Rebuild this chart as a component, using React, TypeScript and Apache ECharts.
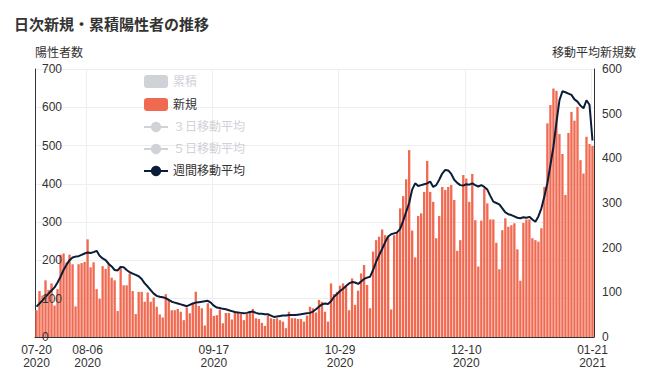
import React, { useEffect, useRef } from 'react';
import * as echarts from 'echarts';

const startDate = '2020-07-20';
const dayCount = 186;
const labelIndices = [0, 17, 59, 101, 143, 185];

const newCases = [
  70, 120, 108, 148, 123, 140, 82, 125, 215, 218, 195, 215, 190, 80, 190, 193, 196, 255,
  182, 195, 125, 100, 185, 178, 190, 155, 148, 68, 185, 135, 135, 165, 120, 60, 118, 118, 92,
  116, 92, 103, 79, 59, 51, 112, 97, 70, 70, 73, 66, 44, 77, 62, 86, 118, 81, 75, 30, 88, 75, 55, 57, 72, 36, 63, 63, 46, 66, 63, 60, 44, 60, 68, 73, 49,
  47, 37, 29, 56, 49, 47, 49, 44, 40, 23, 66, 49, 49, 47, 47, 40, 56, 79, 75, 64, 97, 92, 66, 40, 140, 112, 118, 134, 140, 131, 70, 153, 84, 121, 166, 188, 136, 75,
  223, 253, 262, 281, 266, 262, 72, 266, 271, 336, 368, 412, 488, 278, 208, 316, 323, 379, 460, 379, 353, 258, 316, 392, 384, 392, 397, 358, 225, 253, 423, 414, 353, 426, 305, 184, 304,
  388, 349, 307, 307, 246, 177, 279, 310, 288, 292, 297, 229, 147, 298, 307, 307, 258, 253, 249, 284, 392, 558, 606, 649, 643, 530, 478, 371, 533, 588, 565, 601, 462, 427, 523, 504, 499,
];

const weeklyAvg = [
  68, 75, 82, 90, 97, 104, 111, 122, 135, 150,
  162, 172, 178, 180, 181, 184, 187, 189, 188, 190,
  193, 182, 176, 172, 164, 158, 150, 149, 157, 156,
  150, 145, 142, 139, 136, 130, 120, 113, 105, 97,
  92, 90, 89, 87, 83, 79, 77, 75, 73, 71,
  69, 72, 75, 77, 78, 79, 80, 81, 77, 70,
  66, 65, 63, 62, 60, 58, 56, 55, 54, 53,
  54, 56, 57, 54, 52, 52, 51, 51, 48, 45,
  46, 47, 48, 48, 49, 49, 49, 50, 51, 52,
  53, 54, 57, 62, 68, 73, 75, 74, 80, 90,
  96, 103, 108, 114, 120, 123, 122, 119, 124, 130,
  133, 135, 150, 168, 183, 197, 212, 225, 230, 232,
  234, 242, 260, 280, 300, 330, 344, 338, 340, 342,
  344, 348, 336, 340, 352, 366, 374, 373, 365, 352,
  345, 340, 339, 342, 341, 344, 340, 337, 340, 336,
  330, 316, 303, 300, 297, 288, 279, 275, 273, 270,
  267, 266, 268, 267, 269, 263, 258, 270, 288, 315,
  345, 385, 426, 480, 530, 550, 548, 545, 542, 532,
  527, 518, 512, 530, 520, 440,
];

// Hidden (legend-deselected) series
const cumulative: number[] = [];
const avg3: number[] = [];
const avg5: number[] = [];

const seriesNames = ['累積', '新規', '３日移動平均', '５日移動平均', '週間移動平均'];

function buildDates(): string[] {
  const out: string[] = [];
  const base = new Date(startDate + 'T00:00:00Z').getTime();
  for (let i = 0; i < dayCount; i++) {
    const d = new Date(base + i * 86400000);
    const y = d.getUTCFullYear();
    const m = String(d.getUTCMonth() + 1).padStart(2, '0');
    const dd = String(d.getUTCDate()).padStart(2, '0');
    out.push(`${y}-${m}-${dd}`);
  }
  return out;
}

const FONT = "'Liberation Sans', 'Noto Sans CJK JP', sans-serif";

export default function App() {
  const ref = useRef<HTMLDivElement>(null);
  useEffect(() => {
    if (!ref.current) return;
    const chart = echarts.init(ref.current, null, { renderer: 'svg' });
    const dates = buildDates();
    const showIdx = (i: number) => labelIndices.includes(i);
    chart.setOption({
      animation: false,
      textStyle: { fontFamily: FONT },
      title: {
        text: '日次新規・累積陽性者の推移',
        left: 9,
        top: 12,
        textStyle: { fontSize: 15, fontWeight: 'bold', color: '#333', fontFamily: FONT },
      },
      legend: {
        orient: 'vertical',
        left: 143,
        top: 75,
        padding: 0,
        itemWidth: 24,
        itemHeight: 13,
        itemGap: 10,
        textStyle: { fontSize: 12, color: '#333', fontFamily: FONT },
        data: seriesNames,
        selected: { '累積': false, '３日移動平均': false, '５日移動平均': false },
      },
      grid: { left: 35, right: 55, top: 69, bottom: 45 },
      xAxis: {
        type: 'category',
        data: dates,
        boundaryGap: true,
        axisLine: { lineStyle: { color: '#333' } },
        axisTick: { alignWithLabel: true, interval: showIdx, length: 5, lineStyle: { color: '#333' } },
        axisLabel: {
          interval: showIdx,
          color: '#333',
          fontSize: 12,
          lineHeight: 13,
          margin: 6,
          formatter: (v: string) => `${v.slice(5, 7)}-${v.slice(8, 10)}\n${v.slice(0, 4)}`,
        },
        splitLine: { show: true, interval: showIdx, lineStyle: { color: '#eee' } },
      },
      yAxis: [
        {
          type: 'value',
          min: 0,
          max: 700,
          interval: 100,
          name: '陽性者数',
          nameLocation: 'end',
          nameGap: 10,
          nameTextStyle: { align: 'left', color: '#333', fontSize: 12 },
          axisLine: { show: true, lineStyle: { color: '#333' } },
          axisTick: { show: false },
          axisLabel: { show: false },
          splitLine: { show: true, lineStyle: { color: '#eee' } },
        },
        {
          type: 'value',
          min: 0,
          max: 600,
          interval: 100,
          position: 'right',
          name: '移動平均新規数',
          nameLocation: 'end',
          nameGap: 10,
          nameTextStyle: { align: 'center', color: '#333', fontSize: 12 },
          axisLine: { show: true, lineStyle: { color: '#333' } },
          axisTick: { show: false },
          axisLabel: { color: '#333', fontSize: 12, margin: 8 },
          splitLine: { show: false },
        },
        {
          type: 'value',
          min: 0,
          max: 700,
          interval: 100,
          position: 'left',
          z: 10,
          axisLine: { show: false },
          axisTick: { show: false },
          axisLabel: { inside: true, color: '#333', fontSize: 12, margin: 7 },
          splitLine: { show: false },
        },
      ],
      series: [
        { name: '累積', type: 'bar', yAxisIndex: 0, data: cumulative, itemStyle: { color: '#c8c8c8' } },
        {
          name: '新規',
          type: 'bar',
          yAxisIndex: 0,
          data: newCases,
          barCategoryGap: '22%',
          itemStyle: { color: '#F06A52' },
        },
        { name: '３日移動平均', type: 'line', yAxisIndex: 1, data: avg3, symbol: 'circle', showSymbol: false, itemStyle: { color: '#ccc' } },
        { name: '５日移動平均', type: 'line', yAxisIndex: 1, data: avg5, symbol: 'circle', showSymbol: false, itemStyle: { color: '#ccc' } },
        {
          name: '週間移動平均',
          type: 'line',
          yAxisIndex: 1,
          data: weeklyAvg,
          symbol: 'circle',
          symbolSize: 8,
          showSymbol: false,
          z: 5,
          lineStyle: { color: '#0b1d38', width: 2 },
          itemStyle: { color: '#0b1d38' },
        },
      ],
    });
    return () => chart.dispose();
  }, []);
  return <div ref={ref} style={{ width: 649, height: 382, position: 'absolute', left: 0, top: 0 }} />;
}
